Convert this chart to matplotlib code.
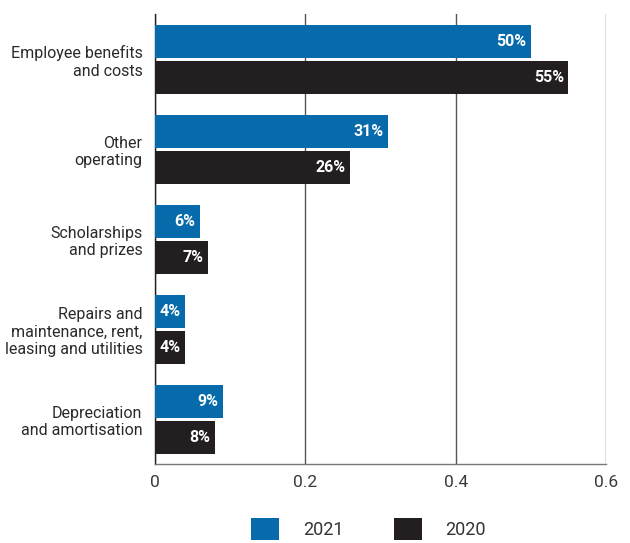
import matplotlib.pyplot as plt
import numpy as np

categories = ["Employee benefits\nand costs", "Other\noperating", "Scholarships\nand prizes",
              "Repairs and\nmaintenance, rent,\nleasing and utilities", "Depreciation\nand amortisation"]
share_2021 = [0.50, 0.31, 0.06, 0.04, 0.09]
share_2020 = [0.55, 0.26, 0.07, 0.04, 0.08]
xticks = [0, 0.2, 0.4, 0.6]
xtick_labels = ["0", "0.2", "0.4", "0.6"]

blue = "#066aab"
dark = "#231f20"

plt.rcParams['font.family'] = ['Roboto', 'DejaVu Sans']

fig = plt.figure(figsize=(6.3, 5.43), dpi=100)
ax = fig.add_axes([0.246, 0.145, 0.716, 0.829])

y = np.arange(len(categories))
h = 0.365
b1 = ax.barh(y - 0.2, share_2021, height=h, color=blue, label="2021", zorder=3)
b2 = ax.barh(y + 0.2, share_2020, height=h, color=dark, label="2020", zorder=3)

# value labels inside the bar ends
for bars, vals in [(b1, share_2021), (b2, share_2020)]:
    for bar, v in zip(bars, vals):
        ax.text(bar.get_width() - 0.006, bar.get_y() + bar.get_height() / 2,
                f"{round(v * 100)}%", color="white", fontsize=11.5, fontweight="bold",
                ha="right", va="center", zorder=4)

ax.set_ylim(len(categories) - 0.5, -0.5)
ax.set_xlim(0, 0.6)
ax.set_yticks(y)
ax.set_yticklabels(categories, fontsize=11.5, color="#2a2a2a", linespacing=1.2)
ax.set_xticks(xticks)
ax.set_xticklabels(xtick_labels, fontsize=12.5, color="#3a3a3a")
ax.tick_params(axis="y", length=0, pad=9)
ax.tick_params(axis="x", length=0, pad=8)
ax.xaxis.grid(True, color="#555555", linewidth=1.0, zorder=0)

for s in ["top", "right"]:
    ax.spines[s].set_visible(False)
ax.spines["left"].set_color("#222222")
ax.spines["bottom"].set_color("#777777")
ax.spines["left"].set_linewidth(1.0)
ax.spines["bottom"].set_linewidth(1.0)

fig.legend(handles=[b1, b2], labels=["2021", "2020"], loc="lower center",
           bbox_to_anchor=(0.585, -0.025), ncol=2, frameon=False,
           prop={"size": 13},
           handlelength=1.55, handleheight=1.55, columnspacing=2.8, handletextpad=1.3,
           labelcolor="#333333")

fig.savefig("out.png", dpi=100)
